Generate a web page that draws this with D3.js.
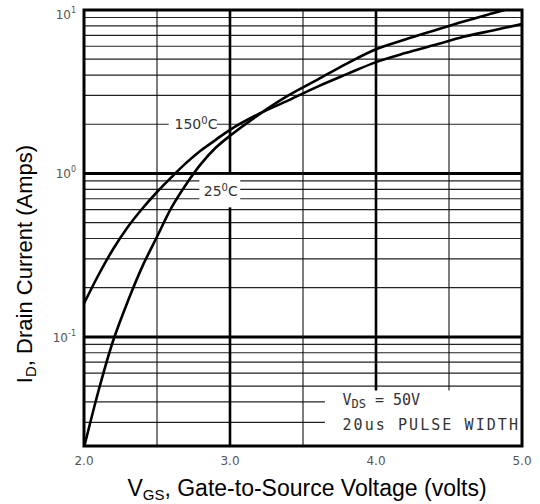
<!DOCTYPE html>
<html><head><meta charset="utf-8">
<script src="https://cdn.jsdelivr.net/npm/d3@7"></script>
<style>body{margin:0;background:#fff}</style>
</head><body>
<svg id="c" width="540" height="504"></svg>
<script>
// ---- data ----
const vgs   = [2.0,2.1,2.2,2.3,2.4,2.5,2.6,2.7,2.8,2.9,3.0,3.2,3.4,3.6,3.8,4.0,4.2,4.4,4.6,4.8,5.0];
const id150 = [0.16,0.24,0.345,0.47,0.61,0.77,0.95,1.16,1.38,1.6,1.85,2.32,2.8,3.4,4.05,4.8,5.45,6.1,6.85,7.5,8.2];
const id25  = [0.021,0.047,0.095,0.165,0.27,0.41,0.62,0.86,1.14,1.43,1.7,2.3,3.0,3.75,4.7,5.75,6.6,7.5,8.5,9.55,10.7];
const xTickVals = [2.0,3.0,4.0,5.0];
const xTickLabels = ["2.0","3.0","4.0","5.0"];
const yTickVals = [0.1,1,10];
const yTickExps = ["-1","0","1"];
const xMajorGrid = [3.0,4.0];
const xMinorGrid = [2.5,3.5,4.5];
const tempLabels = ["150","25"];
const condLines = ["V_DS = 50V","20us PULSE WIDTH"];

// ---- layout ----
const svg = d3.select("#c");
const L=84, R=522, T=10, B=446;
const x = d3.scaleLinear().domain([2,5]).range([L,R]);
const y = d3.scaleLog().domain([0.0215,10]).range([B,T]);

const g = svg.append("g");
const minors=[];
[0.01,0.1,1].forEach(d=>{for(let k=2;k<=9;k++){const v=d*k; if(v>0.0215&&v<10) minors.push(v);}});
g.selectAll(".hmin").data(minors).join("line")
  .attr("x1",L).attr("x2",R).attr("y1",d=>y(d)).attr("y2",d=>y(d))
  .attr("stroke","#222").attr("stroke-width",1.2);
g.selectAll(".hmaj").data([0.1,1]).join("line")
  .attr("x1",L).attr("x2",R).attr("y1",d=>y(d)).attr("y2",d=>y(d))
  .attr("stroke","#000").attr("stroke-width",3);
g.selectAll(".vmin").data(xMinorGrid).join("line")
  .attr("x1",d=>x(d)).attr("x2",d=>x(d)).attr("y1",T).attr("y2",B)
  .attr("stroke","#111").attr("stroke-width",1.1);
g.selectAll(".vmaj").data(xMajorGrid).join("line")
  .attr("x1",d=>x(d)).attr("x2",d=>x(d)).attr("y1",T).attr("y2",B)
  .attr("stroke","#000").attr("stroke-width",2.6);

// label backgrounds
svg.append("rect").attr("x",x(2.58)).attr("y",y(2.25)).attr("width",x(2.91)-x(2.58)).attr("height",y(1.75)-y(2.25)).attr("fill","#fff");
svg.append("rect").attr("x",x(2.79)).attr("y",y(0.98)).attr("width",x(3.07)-x(2.79)).attr("height",y(0.62)-y(0.98)).attr("fill","#fff");
svg.append("rect").attr("x",x(3.65)).attr("y",y(0.047)).attr("width",R-x(3.65)).attr("height",B-y(0.047)).attr("fill","#fff");

// curves
const line = d3.line().x(d=>x(d[0])).y(d=>y(d[1])).curve(d3.curveCatmullRom.alpha(0.5));
svg.append("clipPath").attr("id","clip").append("rect").attr("x",L).attr("y",T).attr("width",R-L).attr("height",B-T);
const cg = svg.append("g").attr("clip-path","url(#clip)");
[id150,id25].forEach(s=>{
  cg.append("path").datum(vgs.map((v,i)=>[v,s[i]])).attr("d",line)
    .attr("fill","none").attr("stroke","#000").attr("stroke-width",2.6);
});

// frame
svg.append("rect").attr("x",L).attr("y",T).attr("width",R-L).attr("height",B-T)
  .attr("fill","none").attr("stroke","#000").attr("stroke-width",3);

// temp labels
function tempLabel(t, vx, iy){
  const tx = svg.append("text").attr("x",x(vx)).attr("y",y(iy)+5)
    .attr("font-family","DejaVu Sans").attr("font-size",14).attr("fill","#333");
  tx.append("tspan").text(t);
  tx.append("tspan").attr("font-size",10).attr("dy",-5).text("0");
  tx.append("tspan").attr("dy",5).text("C");
}
tempLabel(tempLabels[0],2.62,2.0);
tempLabel(tempLabels[1],2.82,0.78);

// conditions
const c1 = svg.append("text").attr("x",x(3.77)).attr("y",y(0.0385))
  .attr("font-family","DejaVu Sans Mono").attr("font-size",15).attr("fill","#333");
c1.append("tspan").text("V");
c1.append("tspan").attr("font-size",12).attr("dy",3).text("DS");
c1.append("tspan").attr("dy",-3).text(" = 50V");
svg.append("text").attr("x",x(3.77)).attr("y",y(0.0268))
  .attr("font-family","DejaVu Sans Mono").attr("font-size",15).attr("fill","#333")
  .attr("textLength",R-4-x(3.77)).attr("lengthAdjust","spacing").text(condLines[1]);

// x tick labels
svg.selectAll(".xt").data(xTickVals).join("text")
  .attr("x",d=>x(d)).attr("y",B+19).attr("text-anchor","middle")
  .attr("font-family","DejaVu Sans").attr("font-size",12).attr("fill","#555")
  .text((d,i)=>xTickLabels[i]);
// y tick labels
yTickVals.forEach((v,i)=>{
  const t = svg.append("text").attr("x",L-8).attr("y",y(v)+(i==2?9:5)).attr("text-anchor","end")
    .attr("font-family","DejaVu Sans").attr("font-size",12).attr("fill","#555");
  t.append("tspan").text("10");
  t.append("tspan").attr("font-size",8).attr("dy",-6).text(yTickExps[i]);
});

// axis titles
const xt = svg.append("text").attr("x",(L+R)/2+4).attr("y",496).attr("text-anchor","middle")
  .attr("font-family","Liberation Sans, Arial").attr("font-size",23).attr("fill","#000");
xt.append("tspan").text("V");
xt.append("tspan").attr("font-size",15).attr("dy",4).text("GS");
xt.append("tspan").attr("dy",-4).text(", Gate-to-Source Voltage (volts)");

const yt = svg.append("text").attr("transform",`translate(32,${264}) rotate(-90)`).attr("text-anchor","middle")
  .attr("font-family","Liberation Sans, Arial").attr("font-size",22).attr("fill","#000");
yt.append("tspan").text("I");
yt.append("tspan").attr("font-size",15).attr("dy",4).text("D");
yt.append("tspan").attr("dy",-4).text(", Drain Current (Amps)");
</script>
</body></html>
